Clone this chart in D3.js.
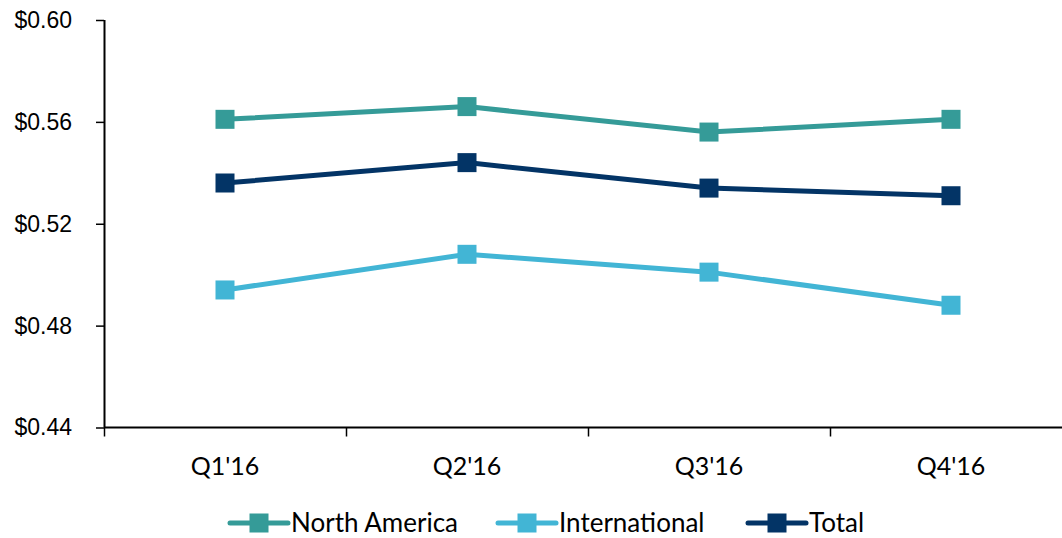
<!DOCTYPE html>
<html>
<head>
<meta charset="utf-8">
<script src="https://cdn.jsdelivr.net/npm/d3@7"></script>
<style>
  body { margin: 0; background: #fff; }
  svg { display: block; font-family: Lato, "Open Sans", sans-serif; }
</style>
</head>
<body>
<div id="chart"></div>
<script>
// quarters on the x axis
var quarters = ["Q1'16", "Q2'16", "Q3'16", "Q4'16"];

// values per series
var northAmerica = [0.561, 0.566, 0.556, 0.561];
var international = [0.494, 0.508, 0.501, 0.488];
var total = [0.536, 0.544, 0.534, 0.531];

var seriesNames = ["North America", "International", "Total"];
var seriesColors = ["#359b98", "#42b5d5", "#033466"];

var yTicks = [0.44, 0.48, 0.52, 0.56, 0.60];

var seriesList = [
    { name: seriesNames[0], color: seriesColors[0], values: northAmerica },
    { name: seriesNames[1], color: seriesColors[1], values: international },
    { name: seriesNames[2], color: seriesColors[2], values: total }
];

var width = 1062, height = 538;
var margin = { top: 20, left: 104, bottom: 111 };

var svg = d3.select("#chart").append("svg")
    .attr("width", width)
    .attr("height", height);

// x scale: four bands, last one runs past the right edge
var xScale = d3.scaleBand()
    .domain(quarters)
    .range([margin.left, margin.left + 4 * 242]);

var yScale = d3.scaleLinear()
    .domain([0.44, 0.60])
    .range([height - margin.bottom + 0.5, margin.top]);

// y axis
var yAxis = svg.append("g")
    .attr("transform", "translate(" + margin.left + ",0)")
    .call(d3.axisLeft(yScale)
        .tickValues(yTicks)
        .tickSize(8)
        .tickPadding(24)
        .tickFormat(function (d) { return "$" + d.toFixed(2); }));
yAxis.select(".domain").attr("d", "M0.5," + yScale(0.44) + "V" + margin.top).attr("stroke", "#000").attr("stroke-width", 2);
yAxis.selectAll(".tick line").attr("stroke", "#000").attr("stroke-width", 1.5);
yAxis.selectAll(".tick text").attr("font-size", 23).attr("fill", "#000");

// x axis with ticks at band edges
var xAxis = svg.append("g")
    .attr("transform", "translate(0," + yScale(0.44) + ")");
xAxis.append("line")
    .attr("x1", margin.left).attr("x2", width)
    .attr("stroke", "#000").attr("stroke-width", 2);
var edges = quarters.map(function (q) { return xScale(q); });
xAxis.selectAll("line.tk")
    .data(edges)
    .enter().append("line")
    .attr("class", "tk")
    .attr("x1", function (d) { return d + 0.5; })
    .attr("x2", function (d) { return d + 0.5; })
    .attr("y1", 0).attr("y2", 9)
    .attr("stroke", "#000").attr("stroke-width", 1.5);
xAxis.selectAll("text")
    .data(quarters)
    .enter().append("text")
    .attr("x", function (d) { return xScale(d) + xScale.bandwidth() / 2; })
    .attr("y", 47)
    .attr("text-anchor", "middle")
    .attr("font-size", 25)
    .attr("fill", "#000")
    .text(function (d) { return d; });

var line = d3.line()
    .x(function (d, i) { return xScale(quarters[i]) + xScale.bandwidth() / 2; })
    .y(function (d) { return yScale(d); });

var ms = 19;

seriesList.forEach(function (s) {
    svg.append("path")
        .datum(s.values)
        .attr("fill", "none")
        .attr("stroke", s.color)
        .attr("stroke-width", 5)
        .attr("d", line);

    svg.selectAll(null)
        .data(s.values)
        .enter().append("rect")
        .attr("x", function (d, i) { return xScale(quarters[i]) + xScale.bandwidth() / 2 - ms / 2; })
        .attr("y", function (d) { return yScale(d) - ms / 2; })
        .attr("width", ms)
        .attr("height", ms)
        .attr("fill", s.color);
});

// legend
var legendX = [230, 498, 748];
var legendY = 523;
var legend = svg.selectAll("g.legend")
    .data(seriesList)
    .enter().append("g")
    .attr("class", "legend")
    .attr("transform", function (d, i) { return "translate(" + legendX[i] + "," + legendY + ")"; });
legend.append("line")
    .attr("x1", 0).attr("x2", 58)
    .attr("stroke", function (d) { return d.color; })
    .attr("stroke-width", 5)
    .attr("stroke-linecap", "round");
legend.append("rect")
    .attr("x", 29 - ms / 2).attr("y", -ms / 2)
    .attr("width", ms).attr("height", ms)
    .attr("fill", function (d) { return d.color; });
legend.append("text")
    .attr("x", 61)
    .attr("y", 9)
    .attr("font-size", 26)
    .attr("fill", "#000")
    .text(function (d) { return d.name; });
</script>
</body>
</html>
